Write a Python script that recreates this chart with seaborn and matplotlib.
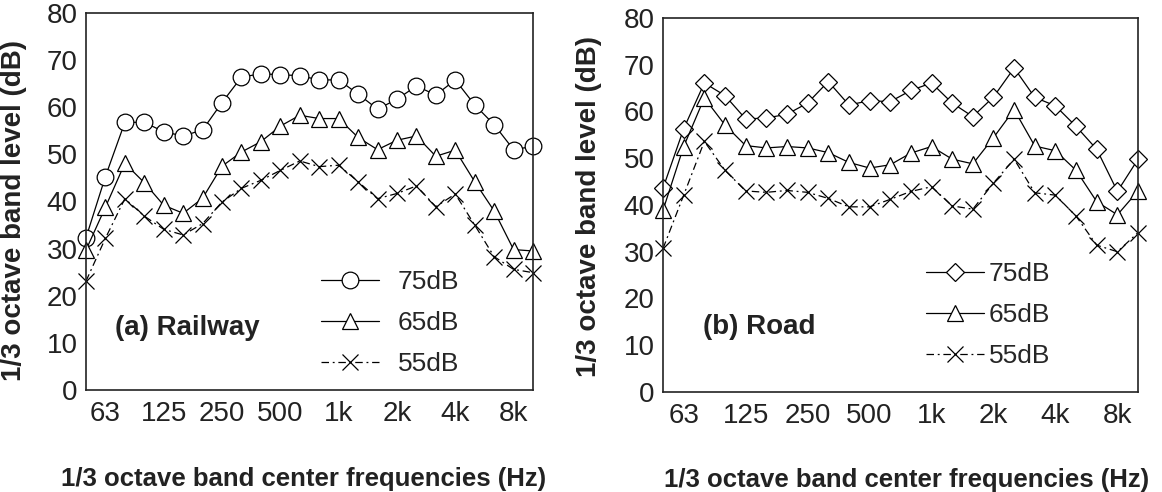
import numpy as np
import pandas as pd
import matplotlib
matplotlib.use("Agg")
import matplotlib.pyplot as plt
import seaborn as sns

# 1/3 octave bands, 50 Hz .. 10 kHz
bands = ["50", "63", "80", "100", "125", "160", "200", "250", "315", "400",
         "500", "630", "800", "1k", "1.25k", "1.6k", "2k", "2.5k", "3.15k",
         "4k", "5k", "6.3k", "8k", "10k"]
tick_bands = ["63", "125", "250", "500", "1k", "2k", "4k", "8k"]
series_labels = ["75dB", "65dB", "55dB"]

rail_75 = [32.3, 45.3, 56.8, 56.8, 54.8, 53.9, 55.2, 61.0, 66.4, 67.1, 66.9, 66.7,
           65.8, 65.8, 62.8, 59.6, 61.7, 64.5, 62.6, 65.8, 60.5, 56.3, 51.0, 51.7]
rail_65 = [29.7, 38.8, 48.1, 44.0, 39.2, 37.5, 40.7, 47.5, 50.5, 52.7, 56.0, 58.3,
           57.6, 57.6, 53.6, 51.0, 53.0, 53.9, 49.6, 50.9, 44.2, 38.0, 29.8, 29.5]
rail_55 = [23.1, 32.2, 40.6, 36.9, 34.1, 32.9, 35.3, 39.9, 42.8, 44.5, 46.6, 48.6,
           47.4, 47.7, 44.2, 40.6, 41.7, 43.3, 38.9, 41.6, 35.0, 28.3, 25.6, 24.9]

road_75 = [43.6, 56.3, 66.1, 63.4, 58.4, 58.6, 59.4, 61.8, 66.4, 61.4, 62.3, 62.1,
           64.5, 66.1, 61.8, 58.9, 63.1, 69.3, 63.0, 61.2, 56.8, 51.9, 42.9, 49.8]
road_65 = [38.9, 52.5, 62.9, 57.1, 52.7, 52.2, 52.5, 52.2, 51.2, 49.1, 47.9, 48.6,
           51.1, 52.5, 49.8, 48.8, 54.4, 60.4, 52.6, 51.6, 47.4, 40.7, 37.9, 43.0]
road_55 = [30.7, 42.1, 53.6, 47.4, 43.0, 42.7, 43.1, 42.7, 41.4, 39.6, 39.6, 41.2,
           42.9, 43.9, 39.8, 39.1, 44.7, 49.8, 42.6, 42.1, 37.6, 31.4, 30.0, 34.1]

sns.set_style("white")
plt.rcParams["font.family"] = ["Liberation Sans", "DejaVu Sans"]

fig = plt.figure(figsize=(11.62, 4.92), dpi=100)
ax_a = fig.add_axes([0.0740, 0.2073, 0.3847, 0.7663])
ax_b = fig.add_axes([0.5706, 0.2033, 0.4088, 0.7602])

idx = np.arange(len(bands))
dashdot = (0, (6, 3, 1.5, 3))


def draw_panel(ax, vals, top_marker, title, title_xy, leg_xy, leg_pad):
    styles = [
        dict(marker=top_marker, markersize=12 if top_marker == "o" else 9, linestyle="-"),
        dict(marker="^", markersize=12, linestyle="-"),
        dict(marker="x", markersize=12, linestyle=dashdot),
    ]
    for v, lab, st in zip(vals, series_labels, styles):
        sns.lineplot(x=idx, y=v, ax=ax, color="black", linewidth=0.9,
                     markerfacecolor="white", markeredgecolor="black",
                     markeredgewidth=0.9, clip_on=False, label=lab, **st)

    ax.set_xlim(0, len(bands) - 1)
    ax.set_ylim(0, 80)
    ax.set_yticks(range(0, 81, 10))
    ax.set_xticks([bands.index(b) for b in tick_bands])
    ax.set_xticklabels(tick_bands)
    ax.tick_params(axis="both", direction="in", length=8, width=1.3,
                   labelsize=20, colors="black", labelcolor="#222222", pad=6)
    ax.tick_params(axis="x", pad=8)
    for sp in ax.spines.values():
        sp.set_visible(True)
        sp.set_color("#222222")
        sp.set_linewidth(1.2)

    ax.set_xlabel("1/3 octave band center frequencies (Hz)", fontsize=18.5,
                  fontweight="bold", color="#222222")
    ax.set_ylabel("1/3 octave band level (dB)", fontsize=20,
                  fontweight="bold", color="#222222")

    ax.text(title_xy[0], title_xy[1], title, transform=ax.transAxes,
            fontsize=20, fontweight="bold", va="center", ha="left",
            color="#222222")

    ax.legend(loc="center", bbox_to_anchor=leg_xy, frameon=False,
              fontsize=19, handlelength=2.2, handletextpad=leg_pad,
              labelspacing=0.65, borderpad=0, borderaxespad=0)


draw_panel(ax_a, [rail_75, rail_65, rail_55], "o", "(a) Railway",
           (0.065, 0.164), (0.68, 0.178), 0.7)
draw_panel(ax_b, [road_75, road_65, road_55], "D", "(b) Road",
           (0.084, 0.174), (0.684, 0.206), 0.2)

ax_a.xaxis.set_label_coords(0.487, -0.205)
ax_a.yaxis.set_label_coords(-0.132, 0.477)
ax_b.xaxis.set_label_coords(0.512, -0.202)
ax_b.yaxis.set_label_coords(-0.128, 0.495)

fig.savefig("out.png", dpi=100, facecolor="white")
